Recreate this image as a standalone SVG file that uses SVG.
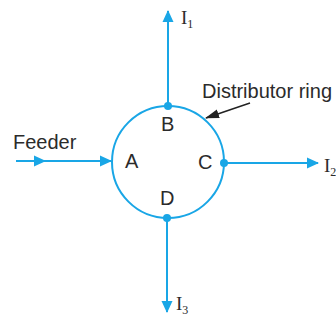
<svg xmlns="http://www.w3.org/2000/svg" width="336" height="320" viewBox="0 0 336 320">
<style>
.w{stroke:#19a6e6;stroke-width:2;fill:none}
.t{font-family:"Liberation Sans",Arial,sans-serif;font-size:20px;fill:#2b2b2b}
.s{font-family:"Liberation Serif","Times New Roman",serif;font-size:19px;fill:#2b2b2b}
.sub{font-family:"Liberation Serif","Times New Roman",serif;font-size:12px;fill:#2b2b2b}
</style>
<defs>
<marker id="ab" viewBox="0 0 12 12" refX="11" refY="6" markerWidth="12" markerHeight="12" orient="auto" markerUnits="userSpaceOnUse"><path d="M0,0.5L12,6L0,11.5z" fill="#19a6e6"/></marker>
<marker id="ak" viewBox="0 0 14 10" refX="13" refY="5" markerWidth="14" markerHeight="10" orient="auto" markerUnits="userSpaceOnUse"><path d="M0,0.5L14,5L0,9.5z" fill="#222"/></marker>
</defs>
<g id="ring">
<circle class="w" cx="168" cy="162" r="56"/>
</g>
<g id="connectors">
<path class="w" d="M168,106V11" marker-end="url(#ab)"/>
<path class="w" d="M167,218V312" marker-end="url(#ab)"/>
<path class="w" d="M224,163H318" marker-end="url(#ab)"/>
<path class="w" d="M16,161H45" marker-end="url(#ab)"/>
<path class="w" d="M40,161H111" marker-end="url(#ab)"/>
<path d="M250,103L206,118" stroke="#222" stroke-width="1.5" fill="none" marker-end="url(#ak)"/>
</g>
<g id="nodes">
<circle cx="168" cy="106" r="4" fill="#19a6e6"/>
<circle cx="167" cy="218" r="4" fill="#19a6e6"/>
<circle cx="224" cy="163" r="4" fill="#19a6e6"/>
</g>
<g id="labels">
<text class="t" x="13" y="149">Feeder</text>
<text class="t" x="125" y="168">A</text>
<text class="t" x="161" y="131">B</text>
<text class="t" x="198" y="169">C</text>
<text class="t" x="160" y="205">D</text>
<text class="t" x="202" y="98">Distributor ring</text>
<text class="s" x="181" y="24">I<tspan class="sub" dy="4">1</tspan></text>
<text class="s" x="324" y="172">I<tspan class="sub" dy="4">2</tspan></text>
<text class="s" x="176" y="310">I<tspan class="sub" dy="4">3</tspan></text>
</g>
</svg>
